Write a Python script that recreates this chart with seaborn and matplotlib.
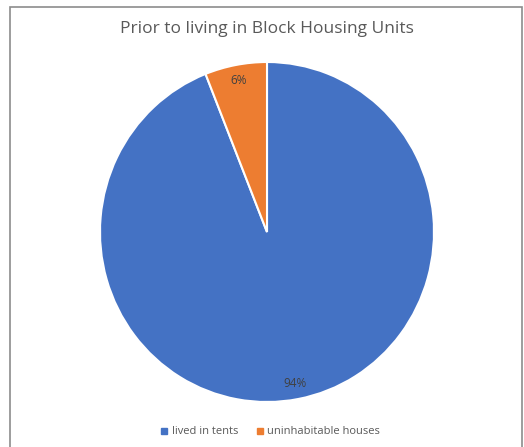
import matplotlib
matplotlib.use("Agg")
import matplotlib.pyplot as plt
import seaborn as sns
from matplotlib.patches import Rectangle

categories = ["lived in tents", "uninhabitable houses"]
values = [94, 6]
colors = ["#4472C4", "#ED7D31"]
title = "Prior to living in Block Housing Units"

sns.set_theme(style="white")
plt.rcParams['font.family'] = ['Open Sans', 'DejaVu Sans']

W, H = 524, 447
fig = plt.figure(figsize=(W / 100, H / 100), dpi=100)
fig.patch.set_facecolor("white")

cx, cy, rx, ry = 267, 232, 167, 170
ax = fig.add_axes([(cx - rx) / W, (H - cy - ry) / H, 2 * rx / W, 2 * ry / H])
wedges, texts, autotexts = ax.pie(
    values, colors=colors, startangle=90, counterclock=False,
    autopct=lambda p: f"{p:.0f}%", pctdistance=0.91,
    wedgeprops=dict(edgecolor="white", linewidth=1.5),
    textprops=dict(fontsize=8.5, color="#404040"))
ax.set_xlim(-1, 1)
ax.set_ylim(-1, 1)
ax.set_aspect("auto")
ax.axis("off")

fig.text(267 / W, 1 - 29 / H, title, ha="center", va="center",
         fontsize=12.5, color="#595959")

handles = [plt.Line2D([0], [0], marker="s", linestyle="", markersize=4,
                      markerfacecolor=c, markeredgecolor=c) for c in colors]
fig.legend(handles, categories, loc="center", bbox_to_anchor=(270 / W, 1 - 432 / H),
           ncol=2, frameon=False, fontsize=8, handletextpad=0.3,
           handlelength=0.8, columnspacing=1.5, labelcolor="#595959")

fig.add_artist(Rectangle((10 / W, -0.02), (522 - 10) / W, 1 - 7 / H + 0.02,
                         transform=fig.transFigure, fill=False,
                         edgecolor="#8c8c8c", linewidth=1.2))

fig.savefig("out.png", dpi=100)
